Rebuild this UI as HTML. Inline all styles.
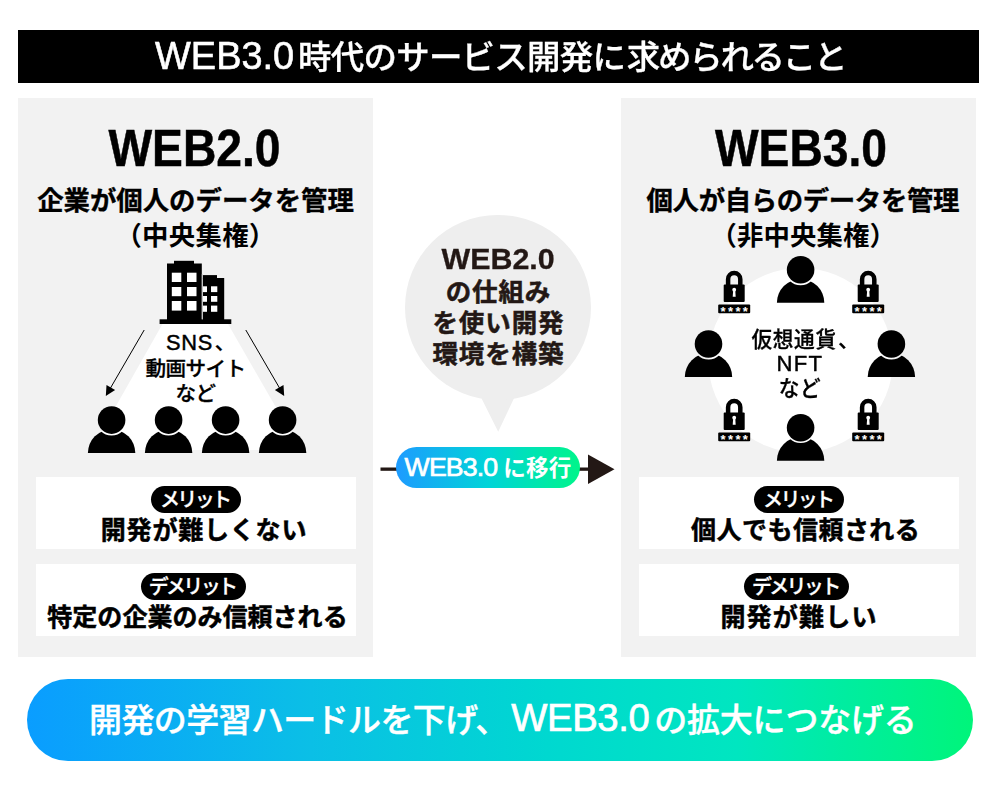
<!DOCTYPE html>
<html lang="ja">
<head>
<meta charset="utf-8">
<title>WEB3.0時代のサービス開発に求められること</title>
<style>
html,body{margin:0;padding:0;background:#fff;}
body{width:1000px;height:785px;position:relative;overflow:hidden;font-family:"Liberation Sans","Noto Sans CJK JP",sans-serif;color:#000;}
.abs{position:absolute;}
.t{position:absolute;white-space:nowrap;text-align:center;line-height:1;}
.jp{font-family:"Noto Sans CJK JP","Liberation Sans",sans-serif;}
.lat{font-family:"Liberation Sans","Noto Sans CJK JP",sans-serif;}
#titlebar{left:18px;top:30px;width:961px;height:53px;background:#000;}
#title{left:0;top:34.5px;width:1000px;height:40px;text-align:left;font-size:32.5px;color:#fff;font-weight:500;line-height:40px;}
.lw{position:absolute;top:0;left:0;font-family:"Liberation Sans",sans-serif;font-weight:400;letter-spacing:0;transform-origin:0 50%;}
#title .cj{position:absolute;top:0;letter-spacing:-0.73px;-webkit-text-stroke:0.3px #fff;transform:scaleX(1.03);transform-origin:0 50%;}
#title .tail{letter-spacing:-2.2px;margin-left:1.5px;}
.panel{background:#f2f2f2;top:98px;height:559px;}
#pl{left:18px;width:355px;}
#pr{left:621px;width:355px;}
.big{font-family:"Liberation Sans",sans-serif;font-weight:700;font-size:51px;line-height:50px;top:123.8px;transform-origin:50% 50%;transform:scaleX(0.906);-webkit-text-stroke:0.5px #000;}
.sub{font-weight:700;font-size:26.4px;line-height:30px;-webkit-text-stroke:0.35px #000;}
.sub2{font-weight:700;font-size:26.4px;line-height:30px;letter-spacing:0.3px;}
.mid{font-weight:500;font-size:20.6px;line-height:24.2px;letter-spacing:-1px;-webkit-text-stroke:0.3px #000;}
.mid .lat{letter-spacing:0;font-weight:400;-webkit-text-stroke:0.45px #000;}
.mid .c{display:inline-block;width:0.5em;text-align:left;margin-left:1.6px;letter-spacing:0;}
.box{background:#fff;height:72px;}
.pill{background:#000;border-radius:13.4px;height:26.7px;}
.pt{color:#fff;font-weight:500;font-size:20px;line-height:26.7px;letter-spacing:-2.7px;-webkit-text-stroke:0.3px #fff;text-indent:-2.7px;}
.bt{font-weight:700;font-size:25px;line-height:30px;-webkit-text-stroke:0.5px #000;}
#circ{left:405.4px;top:215px;width:185.2px;height:185.2px;border-radius:50%;background:#eee;}
.ct{color:#231815;font-weight:700;font-size:25.5px;line-height:31px;letter-spacing:0.9px;-webkit-text-stroke:0.5px #231815;}
#grad{left:395.8px;top:446.8px;width:184.5px;height:41.5px;border-radius:21px;background:linear-gradient(90deg,#1e9bff 0%,#00d4d8 50%,#00f58a 100%);}
#gt{color:#fff;font-size:22.5px;font-weight:700;line-height:41.5px;letter-spacing:0.3px;}
#gt .lat{font-size:26.7px;font-weight:400;margin-right:5.8px;letter-spacing:-0.85px;-webkit-text-stroke:0.7px #fff;}
#banner{left:26.5px;top:679px;width:946.5px;height:82px;border-radius:41px;background:linear-gradient(90deg,#0a9dff 0%,#0bbfe6 30%,#00d8d0 55%,#00e6c0 75%,#00f57a 100%);}
#bn{color:#fff;font-size:33px;font-weight:500;line-height:82px;-webkit-text-stroke:0.4px #fff;text-align:left;}
#bn span{position:absolute;top:0;}
#bn .lat{font-size:38.3px;font-weight:400;letter-spacing:-0.5px;-webkit-text-stroke:0.7px #fff;}
</style>
</head>
<body>
<div class="abs" id="titlebar"></div>
<div class="t jp" id="title"><span class="lw" style="left:155.1px;top:1px;font-size:39px;-webkit-text-stroke:0.6px #fff;transform:scaleX(0.973);">WEB3.0</span><span class="cj" style="left:298px;">時代のサービス開発に<span class="tail">求められること</span></span></div>

<div class="abs panel" id="pl"></div>
<div class="abs panel" id="pr"></div>

<svg class="abs" style="left:0;top:0" width="1000" height="785" viewBox="0 0 1000 785">
  <defs>
    <mask id="pm" maskUnits="userSpaceOnUse" x="-30" y="-30" width="60" height="60"><rect x="-30" y="-30" width="60" height="60" fill="#fff"/><circle cx="0" cy="-9.6" r="15.4" fill="#000"/></mask>
    <g id="person">
      <path d="M-23.7,23.4 A23.7,23.7 0 0 1 23.7,23.4 Z" fill="#000" mask="url(#pm)"/>
      <circle cx="0" cy="-9.6" r="13.8" fill="#000"/>
    </g>
    <g id="lock">
      <path d="M-6.1,-7 V-12.8 A6.1,6.1 0 0 1 6.1,-12.8 V-7" fill="none" stroke="#000" stroke-width="4.5"/>
      <rect x="-10.5" y="-7.5" width="21" height="17.6" rx="1" fill="#000"/>
      <circle cx="0" cy="-2.3" r="1.9" fill="#fff"/>
      <path d="M-1,-2 L1,-2 L1.5,4.8 L-1.5,4.8 Z" fill="#fff"/>
      <rect x="-16" y="12.5" width="32" height="8.8" rx="1" fill="#000"/>
    </g>
  </defs>
  <!-- left fan -->
  <polygon points="162.5,324 228,324 300.5,450 91,450" fill="#fff"/>
  <!-- building -->
  <g fill="#000">
    <rect x="159.6" y="319.3" width="71.7" height="4.7"/>
    <rect x="167" y="263.5" width="34.8" height="57"/>
    <rect x="174" y="260.8" width="20" height="4"/>
    <rect x="202.7" y="278" width="21.5" height="42"/>
    <rect x="202.7" y="275.1" width="14.3" height="4"/>
  </g>
  <g fill="#fff">
    <rect x="171.8" y="272.7" width="9.5" height="9.3"/><rect x="187" y="272.7" width="9.5" height="9.3"/>
    <rect x="171.8" y="287" width="9.5" height="9.2"/><rect x="187" y="287" width="9.5" height="9.2"/>
    <rect x="171.8" y="301" width="9.5" height="9.6"/><rect x="187" y="301" width="9.5" height="9.6"/>
    <rect x="202.7" y="286.3" width="4.3" height="5.8"/><rect x="211" y="286.3" width="6.3" height="5.8"/>
    <rect x="202.7" y="296" width="4.3" height="5.8"/><rect x="211" y="296" width="6.3" height="5.8"/>
    <rect x="202.7" y="305.6" width="4.3" height="6.2"/><rect x="211" y="305.6" width="6.3" height="6.2"/>
  </g>
  <rect x="201.8" y="274" width="0.9" height="45.3" fill="#ccc"/>
  <!-- arrows -->
  <g stroke="#000" stroke-width="1" fill="#000">
    <line x1="144.2" y1="330" x2="109.5" y2="389.7"/>
    <polygon points="105.8,396 106.5,384.9 115.1,389.9" stroke="none"/>
    <line x1="245.8" y1="330" x2="280.5" y2="389.7"/>
    <polygon points="284.2,396 283.5,384.9 274.9,389.9" stroke="none"/>
  </g>
  <!-- left people -->
  <use href="#person" x="111.6" y="429.7"/>
  <use href="#person" x="168.6" y="429.7"/>
  <use href="#person" x="225.6" y="429.7"/>
  <use href="#person" x="282.6" y="429.7"/>
  <!-- right circle -->
  <circle cx="800.6" cy="360.3" r="92.3" fill="#fff"/>
  <use href="#person" x="800.6" y="279.4"/>
  <use href="#person" x="708.5" y="353.6"/>
  <use href="#person" x="891.4" y="353.6"/>
  <use href="#person" x="800.6" y="437.3"/>
  <use href="#lock" x="734.2" y="292"/>
  <use href="#lock" x="868.2" y="292"/>
  <use href="#lock" x="734.2" y="420"/>
  <use href="#lock" x="868.2" y="420"/>
  <g font-family="Liberation Sans, sans-serif" font-size="13" font-weight="700" fill="#fff" text-anchor="middle">
    <text x="735.4" y="316" letter-spacing="2.4">****</text>
    <text x="869.4" y="316" letter-spacing="2.4">****</text>
    <text x="735.4" y="444" letter-spacing="2.4">****</text>
    <text x="869.4" y="444" letter-spacing="2.4">****</text>
  </g>
  <!-- bubble pointer -->
  <polygon points="480.8,397 514.6,397 498.2,431.8" fill="#eee"/>
  <!-- middle arrow -->
  <rect x="380.5" y="467.5" width="210" height="3.3" fill="#231815"/>
  <polygon points="588,454.5 614.5,469.2 588,484" fill="#231815"/>
</svg>

<div class="t big" style="left:17px;width:355px;">WEB2.0</div>
<div class="t big" style="left:621px;width:360px;">WEB3.0</div>

<div class="t jp sub" style="left:18px;width:355px;top:184.3px;">企業が個人のデータを管理</div>
<div class="t jp sub2" style="left:18px;width:355px;top:219.4px;">（中央集権）</div>
<div class="t jp sub" style="left:625.3px;width:355px;top:184.3px;letter-spacing:-0.35px;">個人が自らのデータを管理</div>
<div class="t jp sub2" style="left:625.7px;width:355px;top:219.4px;letter-spacing:0.1px;">（非中央集権）</div>

<div class="t jp mid" style="left:95.5px;width:200px;top:329.2px;letter-spacing:-0.6px;"><span class="lat" style="font-size:21.8px;letter-spacing:0.8px;">SNS</span><span class="c">、</span><br>動画サイト<br>など</div>
<div class="t jp mid" style="left:699.6px;width:200px;top:325.5px;font-size:21.3px;letter-spacing:0.7px;transform:scaleX(0.97);">仮想通貨<span class="c">、</span><br><span class="lat" style="font-size:22.8px;letter-spacing:1.3px;">NFT</span><br>など</div>

<div class="abs box" style="left:36px;top:476.7px;width:320px;"></div>
<div class="abs box" style="left:36px;top:564.3px;width:320px;"></div>
<div class="abs box" style="left:639px;top:476.7px;width:320px;"></div>
<div class="abs box" style="left:639px;top:564.3px;width:320px;"></div>

<div class="abs pill" style="left:150.8px;top:485.9px;width:90.4px;"></div>
<div class="t jp pt" style="left:150.8px;top:485.9px;width:90.4px;">メリット</div>
<div class="abs pill" style="left:141px;top:573px;width:104.7px;"></div>
<div class="t jp pt" style="left:141px;top:573px;width:104.7px;">デメリット</div>
<div class="abs pill" style="left:753.8px;top:485.9px;width:90.5px;"></div>
<div class="t jp pt" style="left:753.8px;top:485.9px;width:90.5px;">メリット</div>
<div class="abs pill" style="left:743.8px;top:573px;width:105.5px;"></div>
<div class="t jp pt" style="left:743.8px;top:573px;width:105.5px;">デメリット</div>

<div class="t jp bt" style="left:37px;width:334px;top:512.8px;letter-spacing:0.8px;">開発が難しくない</div>
<div class="t jp bt" style="left:37.5px;width:320px;top:599.6px;letter-spacing:0.03px;">特定の企業のみ信頼される</div>
<div class="t jp bt" style="left:640.2px;width:331px;top:512.8px;letter-spacing:0.47px;">個人でも信頼される</div>
<div class="t jp bt" style="left:639px;width:320px;top:599.6px;letter-spacing:1.2px;">開発が難しい</div>

<div class="abs" id="circ"></div>
<div class="t lat ct" style="left:405.4px;width:185.2px;top:244px;font-size:28.7px;letter-spacing:0;text-indent:1px;transform:scaleX(1.06);-webkit-text-stroke:0.3px #231815;">WEB2.0</div>
<div class="t jp ct" style="left:405.9px;width:185.2px;top:274.2px;">の仕組み<br>を使い開発<br>環境を構築</div>

<div class="abs" id="grad"></div>
<div class="t jp" id="gt" style="left:395.8px;width:184.5px;top:445.8px;"><span class="lat">WEB3.0</span>に移行</div>

<div class="abs" id="banner"></div>
<div class="t jp" id="bn" style="left:0;width:1000px;top:676.5px;height:82px;"><span style="left:89px;letter-spacing:-0.62px;">開発の学習ハードルを下げ、</span><span class="lat" style="left:511.2px;letter-spacing:-0.35px;">WEB3.0</span><span style="left:654.2px;letter-spacing:-0.2px;">の拡大につなげる</span></div>
</body>
</html>
